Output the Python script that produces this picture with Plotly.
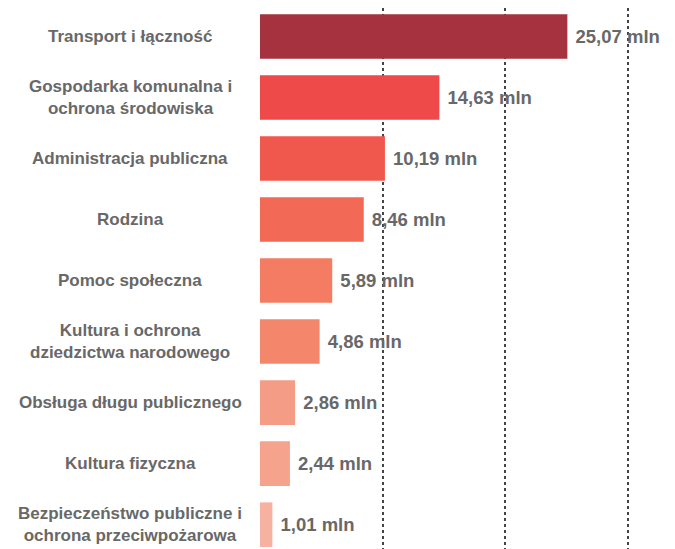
import plotly.graph_objects as go

categories = [
    "Transport i łączność",
    "Gospodarka komunalna i<br>ochrona środowiska",
    "Administracja publiczna",
    "Rodzina",
    "Pomoc społeczna",
    "Kultura i ochrona<br>dziedzictwa narodowego",
    "Obsługa długu publicznego",
    "Kultura fizyczna",
    "Bezpieczeństwo publiczne i<br>ochrona przeciwpożarowa",
]
values = [25.07, 14.63, 10.19, 8.46, 5.89, 4.86, 2.86, 2.44, 1.01]
value_labels = ["25,07 mln", "14,63 mln", "10,19 mln", "8,46 mln", "5,89 mln",
                "4,86 mln", "2,86 mln", "2,44 mln", "1,01 mln"]
colors = ["#A5323E", "#EE4A4A", "#F0584D", "#F26A55", "#F37C62",
          "#F4876B", "#F59C86", "#F5A38D", "#F6B1A1"]
grid_ticks = [10, 20, 30]

TEXT = "#686868"
FONT = "Liberation Sans"

fig = go.Figure()
fig.add_trace(go.Bar(
    x=values,
    y=list(range(len(categories))),
    orientation="h",
    marker=dict(color=colors, line=dict(width=0)),
    text=value_labels,
    texttemplate=" %{text}",
    textposition="outside",
    textfont=dict(family=FONT, size=18.5, color=TEXT, weight="bold"),
    cliponaxis=False,
    hoverinfo="skip",
))

for i, c in enumerate(categories):
    fig.add_annotation(
        x=-0.307, xref="paper", y=i, yref="y",
        text=c, showarrow=False, xanchor="center", yanchor="middle",
        align="center",
        font=dict(family=FONT, size=17, color=TEXT, weight="bold"),
    )

fig.update_layout(
    width=675, height=549,
    margin=dict(l=252, r=0, t=0, b=0),
    paper_bgcolor="white", plot_bgcolor="white",
    bargap=0.27,
    showlegend=False,
    xaxis=dict(
        range=[0, 34.5],
        tickvals=grid_ticks,
        showticklabels=False,
        showgrid=True,
        gridcolor="#444444",
        griddash="dot",
        gridwidth=1.5,
        zeroline=False,
        showline=False,
    ),
    yaxis=dict(
        range=[8.53, -0.467],
        showticklabels=False,
        showgrid=False,
        zeroline=False,
        showline=False,
    ),
)

fig.write_html("out.html")
